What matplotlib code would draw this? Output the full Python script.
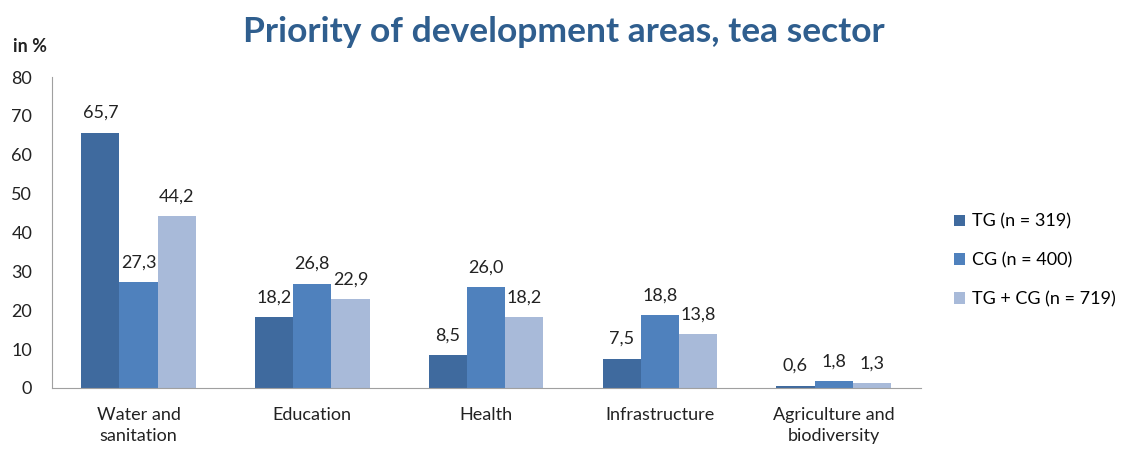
import numpy as np
import matplotlib.pyplot as plt

plt.rcParams['font.family'] = ['Lato', 'DejaVu Sans']

categories = ["Water and\nsanitation", "Education", "Health", "Infrastructure",
              "Agriculture and\nbiodiversity"]
series_names = ["TG (n = 319)", "CG (n = 400)", "TG + CG (n = 719)"]
tg = [65.7, 18.2, 8.5, 7.5, 0.6]
cg = [27.3, 26.8, 26.0, 18.8, 1.8]
tg_cg = [44.2, 22.9, 18.2, 13.8, 1.3]
colors = ["#3F6A9E", "#4F81BD", "#A8BAD9"]

fig = plt.figure(figsize=(11.24, 4.51), dpi=100)
ax = fig.add_axes([0.046, 0.14, 0.773, 0.689])

x = np.arange(len(categories))
w = 0.22
for i, (vals, name) in enumerate(zip([tg, cg, tg_cg], series_names)):
    bars = ax.bar(x + (i - 1) * w, vals, w, color=colors[i], label=name)
    for b, v in zip(bars, vals):
        ax.text(b.get_x() + b.get_width() / 2, v + 3.0, f"{v:.1f}".replace(".", ","),
                ha="center", va="bottom", fontsize=13, color="#222222")

ax.set_xlim(-0.5, len(categories) - 0.5)
ax.set_ylim(0, 80)
ax.set_yticks(range(0, 81, 10))
ax.set_xticks(x)
ax.set_xticklabels(categories, fontsize=13, color="#222222", linespacing=1.35)
ax.tick_params(axis="y", length=0, labelsize=13, pad=14, labelcolor="#222222")
ax.tick_params(axis="x", length=0, pad=14)
for s in ["top", "right"]:
    ax.spines[s].set_visible(False)
ax.spines["left"].set_color("#A0A0A0")
ax.spines["bottom"].set_color("#A0A0A0")

fig.text(0.012, 0.885, "in %", fontsize=13, fontweight="bold", color="#222222")
fig.text(0.502, 0.93, "Priority of development areas, tea sector", fontsize=25.5,
         fontweight="bold", color="#2F5E8E", ha="center", va="center")

ax.legend(loc="center left", bbox_to_anchor=(1.02, 0.41), frameon=False,
          fontsize=13, handlelength=0.6, handleheight=0.6, handletextpad=0.4,
          labelspacing=1.25)

fig.savefig("out.png", dpi=100)
